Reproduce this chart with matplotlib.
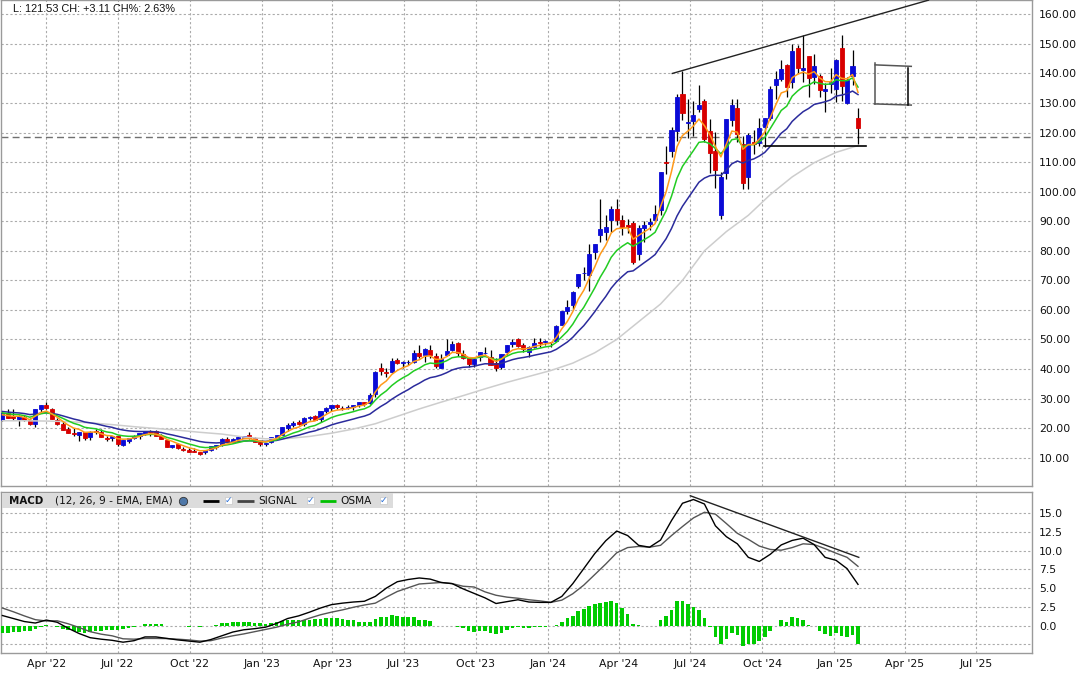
import matplotlib
matplotlib.use("Agg")
import matplotlib.pyplot as plt
import matplotlib.dates as mdates
from matplotlib.patches import Rectangle
import numpy as np
import pandas as pd

# weekly bars, each dated on the Friday of its week
weeks = pd.date_range("2022-02-04", "2025-01-31", freq="W-FRI")

opens = [
    # 2022
    22.9, 25.0, 24.0, 23.0, 23.9, 22.6, 21.3, 26.4, 27.8, 26.6,
    22.7, 21.5, 19.7, 18.4, 17.6, 18.6, 16.9, 19.0, 18.8, 16.5,
    16.5, 17.3, 14.4, 15.7, 16.5, 17.2, 18.1, 19.2, 18.9, 17.3,
    16.0, 13.6, 14.6, 13.0, 12.5, 12.3, 11.8, 11.8, 12.5, 13.7,
    14.3, 16.3, 15.4, 16.2, 16.8, 17.6, 16.6, 15.2,
    # 2023
    14.8, 15.2, 16.6, 17.8, 20.1, 21.0, 22.0, 21.5, 23.4, 24.0,
    23.0, 25.8, 26.8, 27.8, 26.8, 26.7, 27.0, 27.9, 28.9, 28.4,
    31.5, 40.5, 39.1, 39.0, 43.0, 42.0, 42.5, 42.5, 45.5, 44.6,
    46.5, 44.5, 40.5, 44.7, 46.6, 48.8, 45.2, 43.9, 41.7, 44.0,
    45.3, 44.0, 42.0, 40.8, 45.8, 48.5, 50.0, 48.2, 45.6, 47.5,
    49.1, 49.2,
    # 2024 - Jan 2025
    49.2, 49.5, 55.0, 59.8, 61.5, 68.2, 72.6, 71.9, 79.7, 85.2,
    86.4, 90.4, 94.2, 90.3, 88.7, 89.3, 78.8, 87.6, 89.2, 90.5,
    93.8, 110.2, 113.6, 120.5, 133.0, 123.2, 124.0, 128.0, 130.6, 120.4,
    113.7, 92.1, 106.3, 124.4, 128.4, 116.0, 104.9, 116.8, 116.6, 121.8,
    124.9, 136.0, 138.1, 143.0, 137.2, 148.7, 141.3, 145.9, 138.8, 139.0,
    134.2, 136.3, 134.8, 148.6, 130.0, 139.2, 124.8,
]
highs = [
    25.3, 26.5, 26.6, 24.3, 24.5, 23.4, 26.5, 28.0, 28.9, 26.9,
    23.4, 22.4, 20.5, 20.2, 18.8, 18.8, 18.9, 19.6, 19.6, 17.2,
    17.2, 17.5, 15.9, 16.6, 17.8, 18.2, 19.2, 19.3, 19.3, 18.0,
    16.0, 14.4, 14.9, 13.7, 13.3, 13.3, 12.0, 12.5, 13.9, 14.3,
    16.6, 16.9, 16.5, 17.4, 17.5, 18.7, 16.9, 15.6,
    15.0, 17.0, 17.8, 20.4, 21.7, 22.4, 22.9, 23.9, 24.2, 24.6,
    25.8, 27.1, 27.9, 28.1, 27.6, 27.9, 27.8, 28.8, 29.0, 31.9,
    39.5, 41.9, 40.4, 43.9, 43.9, 42.6, 43.2, 46.5, 48.0, 47.2,
    48.0, 45.5, 45.2, 50.2, 49.4, 49.0, 46.5, 44.0, 43.9, 45.7,
    47.6, 46.6, 43.8, 45.2, 48.3, 50.3, 50.5, 48.9, 47.7, 50.4,
    50.4, 49.9,
    49.3, 55.0, 59.5, 63.5, 66.4, 72.2, 74.6, 82.4, 82.3, 97.4,
    92.0, 95.3, 97.4, 92.2, 90.6, 90.0, 88.8, 90.0, 91.2, 95.4,
    106.5, 115.5, 122.0, 132.9, 140.8, 131.4, 130.6, 136.2, 131.4, 124.7,
    120.2, 106.6, 124.6, 131.3, 131.3, 118.8, 119.7, 120.8, 124.9, 125.0,
    135.8, 140.9, 144.4, 143.1, 149.8, 149.7, 152.9, 146.0, 146.5, 139.95,
    136.7, 141.9, 144.9, 153.1, 138.9, 147.8, 128.3,
]
lows = [
    22.4, 23.3, 22.8, 20.8, 22.5, 20.9, 20.5, 25.5, 26.4, 23.0,
    21.2, 19.5, 18.3, 17.4, 15.5, 16.1, 16.0, 18.0, 16.9, 15.5,
    15.8, 14.0, 14.0, 14.9, 16.3, 16.2, 17.8, 17.4, 17.3, 16.2,
    13.5, 13.3, 12.8, 12.4, 12.0, 11.9, 10.8, 11.4, 12.2, 13.0,
    13.9, 15.3, 15.1, 15.6, 16.5, 16.4, 15.2, 14.1,
    14.0, 15.1, 16.2, 17.8, 19.0, 20.5, 21.2, 20.6, 22.8, 22.7,
    22.1, 25.2, 25.9, 26.5, 26.2, 26.4, 26.3, 27.0, 27.6, 28.2,
    30.5, 37.9, 37.3, 38.8, 41.6, 40.4, 41.3, 42.1, 43.9, 42.5,
    43.6, 40.4, 40.3, 44.3, 46.2, 44.4, 43.4, 40.8, 40.8, 42.7,
    45.1, 41.3, 39.4, 40.1, 44.7, 47.6, 47.4, 45.7, 44.2, 47.0,
    47.3, 48.3,
    47.3, 49.0, 54.8, 58.7, 60.3, 67.4, 70.0, 66.3, 77.1, 83.1,
    83.6, 86.2, 88.6, 85.2, 85.9, 75.6, 76.9, 82.9, 87.2, 89.8,
    92.2, 106.0, 111.8, 117.0, 124.3, 118.0, 118.8, 127.0, 116.7, 106.3,
    101.4, 90.7, 104.2, 122.3, 116.7, 101.0, 100.9, 112.8, 115.4, 115.1,
    124.3, 131.4, 137.5, 132.1, 135.2, 140.1, 137.2, 132.2, 136.3, 132.1,
    126.9, 133.5, 130.2, 130.7, 129.5, 136.1, 116.25,
]
closes = [
    25.0, 23.6, 23.6, 24.1, 22.9, 21.3, 26.5, 27.7, 26.7, 23.1,
    21.3, 19.5, 18.5, 18.0, 18.7, 16.6, 18.8, 18.8, 16.9, 16.3,
    17.2, 14.5, 15.9, 16.5, 17.4, 18.2, 19.1, 18.8, 17.5, 16.3,
    13.7, 14.3, 13.2, 12.6, 12.1, 12.0, 11.2, 12.5, 13.8, 14.2,
    16.3, 15.4, 16.3, 17.1, 17.5, 16.6, 15.3, 14.6,
    14.9, 16.9, 17.8, 20.3, 21.1, 21.7, 21.4, 23.3, 23.9, 22.9,
    25.7, 26.7, 27.8, 27.0, 26.7, 27.1, 27.7, 28.7, 28.3, 31.2,
    38.9, 39.3, 38.7, 42.6, 42.2, 42.3, 42.5, 45.4, 44.3, 46.7,
    44.7, 40.9, 43.3, 46.0, 48.5, 45.5, 43.9, 41.6, 43.5, 45.7,
    45.4, 41.3, 40.5, 45.0, 48.3, 49.2, 47.8, 46.7, 47.5, 48.9,
    48.8, 49.5,
    49.0, 54.7, 59.5, 61.0, 66.1, 72.1, 72.6, 78.9, 82.2, 87.5,
    87.9, 94.3, 90.4, 88.0, 88.1, 76.2, 87.7, 88.8, 89.8, 92.5,
    106.5, 109.6, 120.9, 131.9, 126.6, 123.5, 125.8, 129.2, 117.9, 113.1,
    107.3, 104.8, 124.6, 129.4, 119.4, 102.8, 119.1, 116.0, 121.4, 124.9,
    134.8, 138.0, 141.5, 135.4, 147.6, 142.0, 142.0, 138.3, 142.4, 134.3,
    134.7, 137.0, 144.5, 135.9, 137.7, 142.6, 121.53,
]

# moving averages, one value per week
ma_orange = [
    24.53, 24.22, 24.01, 24.04, 23.66, 22.87, 24.08, 25.29, 25.76, 24.87,
    23.68, 22.29, 21.03, 20.02, 19.58, 18.59, 18.66, 18.71, 18.11, 17.51,
    17.41, 16.44, 16.26, 16.34, 16.69, 17.19, 17.83, 18.15, 17.93, 17.39,
    16.16, 15.54, 14.76, 14.04, 13.39, 12.93, 12.35, 12.40, 12.87, 13.31,
    14.31, 14.67, 15.21, 15.84, 16.39, 16.46, 16.07, 15.58, 15.35, 15.87,
    16.51, 17.77, 18.88, 19.82, 20.35, 21.33, 22.19, 22.43, 23.52, 24.58,
    25.65, 26.10, 26.30, 26.57, 26.95, 27.53, 27.79, 28.93, 32.25, 34.60,
    35.97, 38.18, 39.52, 40.45, 41.13, 42.55, 43.13, 44.32, 44.45, 43.27,
    43.28, 44.19, 45.63, 45.59, 45.03, 43.89, 43.76, 44.41, 44.74, 43.59,
    42.56, 43.37, 45.01, 46.41, 46.87, 46.81, 47.04, 47.66, 48.04, 48.53,
    48.69, 50.69, 53.63, 56.09, 59.43, 63.65, 66.63, 70.72, 74.55, 78.87,
    81.88, 86.02, 87.48, 87.65, 87.80, 83.93, 85.19, 86.39, 87.53, 89.19,
    94.96, 99.84, 106.86, 115.21, 119.01, 120.51, 122.27, 124.58, 122.35, 119.27,
    115.28, 111.79, 116.06, 120.51, 120.14, 114.36, 115.94, 115.96, 117.77, 120.15,
    125.03, 129.35, 133.40, 134.07, 138.58, 139.72, 140.48, 139.75, 140.63, 138.52,
    137.25, 137.17, 139.61, 138.37, 138.15, 139.63, 133.59,
]
ma_green = [
    25.16, 24.88, 24.65, 24.55, 24.25, 23.71, 24.22, 24.85, 25.19, 24.81,
    24.17, 23.32, 22.44, 21.63, 21.10, 20.28, 20.01, 19.79, 19.27, 18.73,
    18.45, 17.73, 17.40, 17.24, 17.27, 17.44, 17.74, 17.93, 17.85, 17.57,
    16.87, 16.40, 15.82, 15.23, 14.66, 14.18, 13.64, 13.43, 13.50, 13.63,
    14.11, 14.35, 14.70, 15.14, 15.57, 15.76, 15.67, 15.48, 15.37, 15.65,
    16.04, 16.82, 17.59, 18.34, 18.90, 19.70, 20.46, 20.90, 21.78, 22.67,
    23.60, 24.22, 24.67, 25.11, 25.58, 26.15, 26.54, 27.39, 29.48, 31.27,
    32.62, 34.43, 35.85, 37.02, 38.02, 39.36, 40.26, 41.43, 42.02, 41.82,
    42.09, 42.80, 43.84, 44.14, 44.10, 43.65, 43.62, 44.00, 44.25, 43.71,
    43.13, 43.47, 44.35, 45.23, 45.70, 45.88, 46.18, 46.67, 47.06, 47.50,
    47.77, 49.03, 50.93, 52.76, 55.19, 58.26, 60.87, 64.15, 67.43, 71.08,
    74.14, 77.80, 80.09, 81.53, 82.72, 81.54, 82.66, 83.78, 84.87, 86.26,
    89.94, 93.51, 98.49, 104.56, 108.57, 111.28, 113.92, 116.70, 116.92, 116.23,
    114.60, 112.82, 114.96, 117.59, 117.92, 115.17, 115.88, 115.90, 116.90, 118.35,
    121.34, 124.37, 127.48, 128.92, 132.32, 134.08, 135.52, 136.03, 137.19, 136.66,
    136.30, 136.43, 137.90, 137.54, 137.57, 138.48, 135.39,
]
ma_navy = [
    25.63, 25.44, 25.26, 25.15, 24.94, 24.59, 24.77, 25.05, 25.21, 25.01,
    24.66, 24.17, 23.63, 23.09, 22.67, 22.09, 21.78, 21.50, 21.06, 20.61,
    20.28, 19.73, 19.37, 19.09, 18.93, 18.86, 18.88, 18.87, 18.74, 18.51,
    18.05, 17.69, 17.26, 16.82, 16.37, 15.95, 15.50, 15.21, 15.08, 15.00,
    15.12, 15.15, 15.26, 15.44, 15.63, 15.72, 15.68, 15.58, 15.52, 15.65,
    15.85, 16.27, 16.73, 17.20, 17.60, 18.14, 18.69, 19.09, 19.72, 20.38,
    21.09, 21.65, 22.13, 22.60, 23.09, 23.62, 24.07, 24.75, 26.10, 27.36,
    28.44, 29.79, 30.97, 32.05, 33.04, 34.22, 35.18, 36.28, 37.08, 37.44,
    38.00, 38.76, 39.69, 40.24, 40.59, 40.69, 40.96, 41.41, 41.79, 41.74,
    41.62, 41.94, 42.55, 43.18, 43.62, 43.91, 44.25, 44.69, 45.08, 45.50,
    45.83, 46.67, 47.89, 49.14, 50.75, 52.78, 54.67, 56.98, 59.38, 62.06,
    64.52, 67.36, 69.55, 71.31, 72.91, 73.22, 74.60, 75.95, 77.27, 78.72,
    81.36, 84.05, 87.56, 91.78, 95.09, 97.80, 100.46, 103.20, 104.60, 105.41,
    105.59, 105.51, 107.33, 109.43, 110.38, 109.66, 110.56, 111.08, 112.06, 113.28,
    115.33, 117.49, 119.78, 121.27, 123.78, 125.51, 127.08, 128.15, 129.51, 129.97,
    130.42, 131.05, 132.33, 132.67, 133.15, 134.05, 132.86,
]
# light grey long average, read every 4th week
ma_grey = [
    22.5, 22.5, 22.4, 22.2, 21.8, 21.2, 20.5, 19.9, 19.3, 18.6,
    18.0, 17.0, 16.4, 16.5, 17.2, 18.3, 19.7, 21.5, 24.0, 26.5,
    28.8, 31.0, 33.3, 35.5, 37.5, 39.5, 42.0, 45.5, 50.0, 56.0,
    62.0, 70.0, 80.0, 86.5, 92.0, 99.0, 105.0, 109.8, 113.3, 115.6,
]

# MACD (12, 26, 9) lines, read every 2nd week
macd_vals = [
    1.35, 0.95, 0.55, 0.35, 0.75, 0.45, -0.35, -1.05, -1.6, -1.8,
    -1.95, -2.2, -2.0, -1.5, -1.5, -1.7, -1.9, -2.05, -2.2, -1.85,
    -1.35, -0.85, -0.55, -0.4, -0.2, 0.3, 0.95, 1.3, 1.8, 2.35,
    2.8, 3.0, 3.15, 3.25, 3.9, 5.0, 5.85, 6.15, 6.35, 6.2,
    5.75, 5.6, 4.9, 4.3, 3.7, 2.95, 3.2, 3.45, 3.15, 3.1,
    3.1, 3.9, 5.6, 7.6, 9.6, 11.3, 12.6, 12.0, 10.7, 10.45,
    11.4, 14.0, 16.3, 16.8, 16.2, 13.3, 11.85, 10.9, 9.1, 8.55,
    9.5, 10.75, 11.35, 11.65, 10.8, 9.1, 8.7, 7.6, 5.5,
]
signal_vals = [
    2.35, 1.85, 1.3, 0.8, 0.62, 0.65, 0.25, -0.25, -0.8, -1.13,
    -1.35, -1.75, -1.8, -1.7, -1.7, -1.72, -1.8, -1.9, -2.05, -2.0,
    -1.65, -1.35, -1.1, -0.8, -0.5, -0.2, 0.2, 0.5, 1.0, 1.45,
    1.8, 2.1, 2.45, 2.75, 3.0, 3.8, 4.55, 5.05, 5.55, 5.65,
    5.75, 5.6, 5.25, 5.15, 4.5, 4.05, 3.8, 3.65, 3.45, 3.3,
    3.1, 3.4, 4.25, 5.4, 6.8, 8.2, 9.7, 10.4, 10.55, 10.45,
    10.7, 12.0, 13.2, 14.35, 15.1, 14.85, 13.6, 12.3, 11.5, 10.6,
    10.15, 10.05, 10.4, 10.9, 10.8, 10.25, 9.65, 9.1, 7.9,
]
osma_vals = [
    -1.0, -1.0, -0.9, -0.85, -0.75, -0.67, -0.45, -0.2, 0.13, -0.1,
    -0.2, -0.45, -0.6, -0.75, -0.8, -1.0, -0.8, -0.67, -0.67, -0.6,
    -0.6, -0.6, -0.45, -0.3, -0.2, 0.02, 0.2, 0.2, 0.2, 0.2,
    0.02, -0.05, -0.1, -0.05, -0.15, -0.1, -0.15, -0.1, 0.02, 0.15,
    0.3, 0.4, 0.5, 0.55, 0.55, 0.5, 0.4, 0.3, 0.2, 0.3,
    0.45, 0.65, 0.8, 0.8, 0.8, 0.8, 0.8, 0.9, 0.9, 1.0,
    1.0, 1.0, 0.9, 0.8, 0.7, 0.5, 0.45, 0.45, 0.9, 1.2,
    1.2, 1.45, 1.3, 1.2, 1.1, 1.1, 0.8, 0.8, 0.6, 0.02,
    0.02, 0.0, 0.0, -0.2, -0.35, -0.67, -0.9, -0.75, -0.75, -1.0,
    -1.1, -0.95, -0.6, -0.35, -0.2, -0.3, -0.3, -0.2, -0.2, -0.2,
    0.0, 0.15, 0.55, 1.0, 1.35, 1.9, 2.2, 2.6, 2.85, 3.05,
    3.1, 3.35, 3.0, 2.35, 1.6, 0.25, 0.15, 0.02, 0.02, 0.02,
    0.7, 1.28, 2.15, 3.25, 3.25, 2.85, 2.45, 2.05, 1.0, -0.15,
    -1.5, -2.4, -1.75, -0.95, -1.3, -2.7, -2.4, -2.4, -2.05, -1.5,
    -0.65, 0.02, 0.7, 0.45, 1.1, 1.0, 0.7, 0.15, 0.0, -0.7,
    -1.15, -1.35, -0.95, -1.4, -1.5, -1.2, -2.4,
]

prev_close = 118.42
header = "L: 121.53 CH: +3.11 CH%: 2.63%"

# drawings on the chart
trend_top = (["2024-06-08", "2025-05-01"], [140.0, 164.8])
support = (["2024-10-03", "2025-02-10"], [115.45, 115.45])
box_lines = [
    (["2025-02-22", "2025-04-09"], [142.9, 142.4], "#555555"),
    (["2025-02-22", "2025-02-22"], [143.5, 129.7], "#555555"),
    (["2025-02-21", "2025-04-09"], [129.7, 129.3], "#555555"),
    (["2025-04-05", "2025-04-05"], [141.8, 129.3], "black"),
]
macd_trend = (["2024-07-01", "2025-02-01"], [17.3, 9.1])

quarters = pd.date_range("2022-04-01", "2025-07-01", freq="QS")

# ---------------------------------------------------------------
W, H = 1085, 678
fig = plt.figure(figsize=(W / 100, H / 100), dpi=100)
ax = fig.add_axes([1 / W, 1 - 486 / H, 1031 / W, 486 / H])
mx = fig.add_axes([1 / W, 1 - 653 / H, 1031 / W, 161 / H])

x = mdates.date2num(weeks.to_pydatetime())
o, h, l, c = map(np.array, (opens, highs, lows, closes))
col = np.where(c >= o, "#0a0ad6", "#d80000")

ax.vlines(x, l, h, color="black", lw=0.9, zorder=3)
ax.bar(x, np.abs(c - o), bottom=np.minimum(o, c), width=5.2, color=col,
       edgecolor=col, linewidth=0.6, zorder=4)

ax.plot(x[::4], ma_grey, color="#cdcdcd", lw=1.1, zorder=5)
ax.plot(x, ma_navy, color="#2b2b9c", lw=1.1, zorder=5)
ax.plot(x, ma_green, color="#22cc22", lw=1.1, zorder=6)
ax.plot(x, ma_orange, color="#ff9a1a", lw=1.1, zorder=7)

ax.axhline(prev_close, color="#707070", lw=1.0, dashes=(5, 3), zorder=2)


def dn(ds):
    return mdates.date2num(pd.to_datetime(ds).to_pydatetime())


ax.plot(dn(trend_top[0]), trend_top[1], color="#222222", lw=1.0, zorder=8)
ax.plot(dn(support[0]), support[1], color="black", lw=1.2, zorder=8)
for ds, vs, cc in box_lines:
    ax.plot(dn(ds), vs, color=cc, lw=1.1, zorder=8)

# MACD panel
mx.bar(x, osma_vals, width=4.6, color="#00cc00", linewidth=0, zorder=3)
mx.plot(x[::2], signal_vals, color="#555555", lw=1.0, zorder=4)
mx.plot(x[::2], macd_vals, color="black", lw=1.0, zorder=5)
mx.plot(dn(macd_trend[0]), macd_trend[1], color="#222222", lw=1.0, zorder=6)

xlim = (mdates.date2num(pd.Timestamp("2022-02-02 05:00")),
        mdates.date2num(pd.Timestamp("2025-09-10 02:00")))
qx = mdates.date2num(quarters.to_pydatetime())
qlabels = [d.strftime("%b '%y") for d in quarters]

grid_kw = dict(color="#ababab", lw=0.8, linestyle=(0, (2, 2)))
tick_font = dict(family="DejaVu Sans", size=7.8)

for a in (ax, mx):
    a.set_xlim(*xlim)
    a.set_xticks(qx)
    a.grid(True, **grid_kw)
    a.set_axisbelow(True)
    a.yaxis.tick_right()
    a.tick_params(axis="both", length=0, colors="#111111", labelsize=7.8)
    for s in a.spines.values():
        s.set_color("#9a9a9a")
        s.set_linewidth(1.0)

ax.set_xticklabels([])
ax.set_ylim(0.43, 164.85)
ax.set_yticks(range(10, 161, 10))
ax.set_yticklabels([f"{v:.2f}" for v in range(10, 161, 10)])
ax.tick_params(axis="y", pad=5)

mx.set_ylim(-3.64, 17.8)
mticks = [-2.5, 0, 2.5, 5, 7.5, 10, 12.5, 15]
mx.set_yticks(mticks)
mx.set_yticklabels(["" if v < 0 else f"{v:.1f}" for v in mticks])
mx.tick_params(axis="y", pad=5)
mx.set_xticklabels(qlabels)
mx.tick_params(axis="x", pad=4)

fig.text(13 / W, 1 - 9 / H, header, fontsize=7.8, family="Liberation Sans",
         va="center", ha="left", color="#111111")

# MACD legend strip


def fx(px):
    return (px - 1) / 1031


def fy(py):
    return (653 - py) / 161


tr = mx.transAxes
ly = fy(500.5)
mx.add_patch(Rectangle((fx(2), fy(508)), fx(393) - fx(2), fy(492.5) - fy(508),
                       transform=tr, facecolor="#dcdcdc", edgecolor="none", zorder=9))
mx.text(fx(9), ly, "MACD", transform=tr, fontsize=7.4, weight="bold",
        va="center", ha="left", color="#111111", zorder=10)
mx.text(fx(55), ly, "(12, 26, 9 - EMA, EMA)", transform=tr, fontsize=7.6,
        va="center", ha="left", color="#111111", zorder=10)
mx.plot([fx(183)], [ly], transform=tr, marker="o", markersize=6,
        color="#4f78a8", markeredgecolor="#333333", markeredgewidth=0.6, zorder=10)
legend_items = [(203, 219, "black", None, 228),
                (237, 254, "#444444", "SIGNAL", 310),
                (320, 336, "#00c000", "OSMA", 383)]
for x0, x1, cc, label, box_x in legend_items:
    mx.plot([fx(x0), fx(x1)], [ly, ly], transform=tr, color=cc, lw=2.0,
            solid_capstyle="butt", zorder=10)
    if label:
        mx.text(fx(x1 + 4), ly, label, transform=tr, fontsize=7.6,
                va="center", ha="left", color="#111111", zorder=10)
    mx.add_patch(Rectangle((fx(box_x - 3.5), fy(504)), fx(7) - fx(0), fy(497) - fy(504),
                           transform=tr, facecolor="white", edgecolor="#c8c8c8",
                           lw=0.5, zorder=10))
    mx.text(fx(box_x), ly, "\u2713", transform=tr, fontsize=6.5, color="#2a6fd6",
            va="center", ha="center", weight="bold", zorder=11)

fig.savefig("out.png", dpi=100, facecolor="white")
